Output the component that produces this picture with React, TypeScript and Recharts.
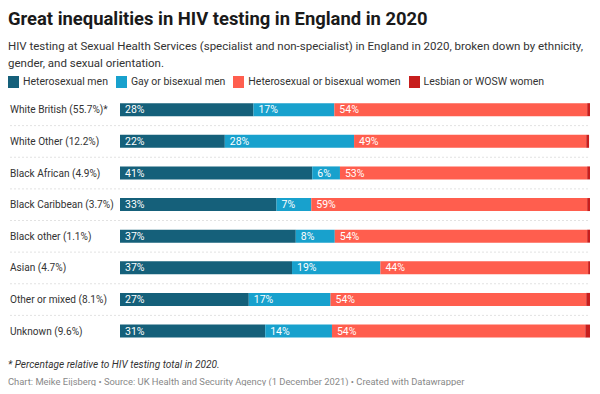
import { BarChart, Bar, XAxis, YAxis, LabelList } from "recharts";

const groups = [
  "White British (55.7%)*",
  "White Other (12.2%)",
  "Black African (4.9%)",
  "Black Caribbean (3.7%)",
  "Black other (1.1%)",
  "Asian (4.7%)",
  "Other or mixed (8.1%)",
  "Unknown (9.6%)",
];
const heteroMen = [28.4, 22.3, 40.9, 33.3, 37.4, 36.6, 27.4, 30.9];
const gayBiMen = [17.2, 27.5, 5.9, 7.4, 8.3, 18.8, 17.4, 14.2];
const heteroBiWomen = [53.8, 49.4, 52.6, 58.7, 53.7, 44.2, 54.4, 53.9];
const lesbianWomen = [0.6, 0.6, 0.6, 0.6, 0.6, 0.4, 0.8, 1.0];

const series = [
  { key: "heteroMen", name: "Heterosexual men", color: "#15607a", label: true },
  { key: "gayBiMen", name: "Gay or bisexual men", color: "#18a1cd", label: true },
  { key: "heteroBiWomen", name: "Heterosexual or bisexual women", color: "#ff5e4e", label: true },
  { key: "lesbianWomen", name: "Lesbian or WOSW women", color: "#c71e1d", label: false },
];

const data = groups.map((name, i) => ({
  name,
  heteroMen: heteroMen[i],
  gayBiMen: gayBiMen[i],
  heteroBiWomen: heteroBiWomen[i],
  lesbianWomen: lesbianWomen[i],
}));

const font = "Roboto, 'Noto Sans', sans-serif";
const CHART_W = 592;
const CHART_H = 253;
const ROW = CHART_H / groups.length;

function GroupTick(props: any) {
  const { y, payload, index } = props;
  return (
    <g>
      <text x={2} y={y} dy="0.35em" textAnchor="start" fontSize={10.1} fill="#333" fontFamily={font}>
        {payload.value}
      </text>
      {index < groups.length - 1 && (
        <line x1={2} x2={582} y1={y + ROW / 2} y2={y + ROW / 2} stroke="#e2e2e2" strokeDasharray="2 2" />
      )}
    </g>
  );
}

function BarLabel(props: any) {
  const { x, y, height, value } = props;
  return (
    <text x={x + 5} y={y + height / 2} dy="0.35em" fontSize={10.5} fill="#fff" fontFamily={font}>
      {Math.round(value)}%
    </text>
  );
}

export default function App() {
  return (
    <div style={{ position: "relative", width: 592, height: 378, fontFamily: font, color: "#222" }}>
      <div style={{ position: "absolute", left: 0, top: 0, fontSize: 18.4, fontWeight: 700, lineHeight: "22px", color: "#1a1a1a", whiteSpace: "nowrap" }}>
        Great inequalities in HIV testing in England in 2020
      </div>
      <div style={{ position: "absolute", left: 0, top: 30, width: 592, fontSize: 11.5, lineHeight: "16.5px", color: "#333" }}>
        HIV testing at Sexual Health Services (specialist and non-specialist) in England in 2020, broken down by ethnicity,
        gender, and sexual orientation.
      </div>
      <div style={{ position: "absolute", left: 0, top: 67, display: "flex", fontSize: 10.5, lineHeight: "13px", color: "#333", whiteSpace: "nowrap" }}>
        {series.map((s) => (
          <div key={s.key} style={{ display: "flex", alignItems: "center", marginRight: 8 }}>
            <span style={{ display: "inline-block", width: 11, height: 12, background: s.color, marginRight: 4 }} />
            {s.name}
          </div>
        ))}
      </div>
      <div style={{ position: "absolute", left: 0, top: 86 }}>
        <BarChart
          width={CHART_W}
          height={CHART_H}
          data={data}
          layout="vertical"
          margin={{ top: 0, right: 10, bottom: 0, left: 0 }}
          barCategoryGap="29%"
        >
          <XAxis type="number" domain={[0, 100]} hide />
          <YAxis
            type="category"
            dataKey="name"
            width={112}
            axisLine={false}
            tickLine={false}
            tick={<GroupTick />}
            interval={0}
          />
          {series.map((s) => (
            <Bar key={s.key} dataKey={s.key} name={s.name} stackId="a" fill={s.color} isAnimationActive={false}>
              {s.label && <LabelList dataKey={s.key} content={<BarLabel />} />}
            </Bar>
          ))}
        </BarChart>
      </div>
      <div style={{ position: "absolute", left: 0, top: 351, fontSize: 10.1, fontStyle: "italic", lineHeight: "12px", color: "#333", whiteSpace: "nowrap" }}>
        * Percentage relative to HIV testing total in 2020.
      </div>
      <div style={{ position: "absolute", left: 0, top: 368, fontSize: 9.4, lineHeight: "11px", color: "#888", whiteSpace: "nowrap" }}>
        Chart: Meike Eijsberg • Source: UK Health and Security Agency (1 December 2021) • Created with Datawrapper
      </div>
    </div>
  );
}
